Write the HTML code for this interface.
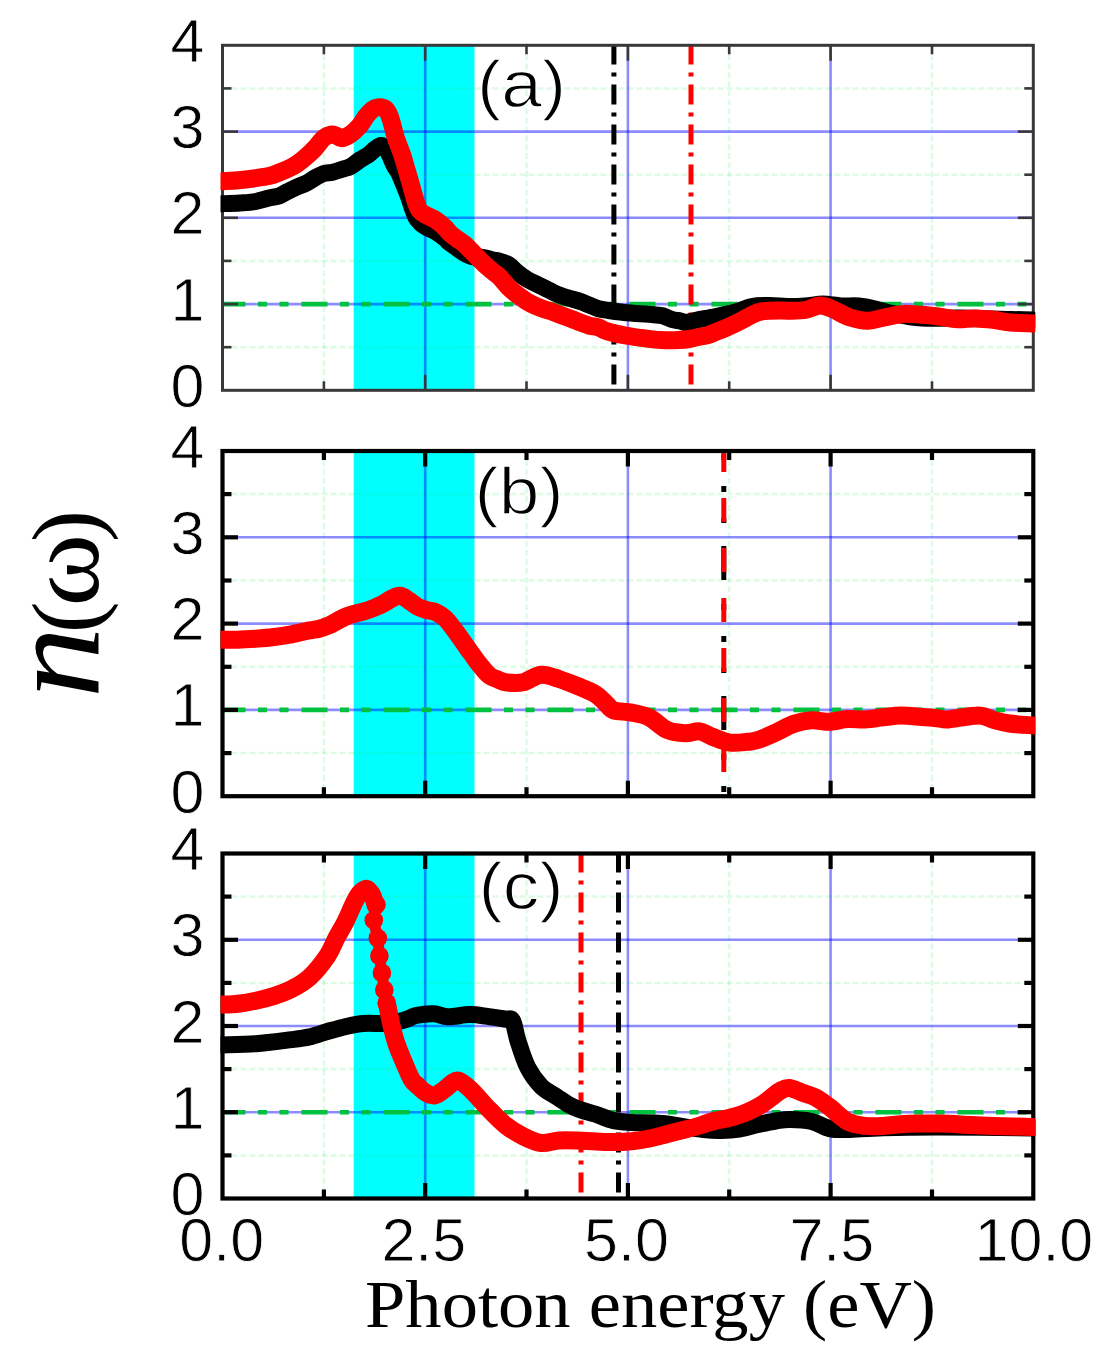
<!DOCTYPE html>
<html><head><meta charset="utf-8"><style>
html,body{margin:0;padding:0;background:#fff;}
svg{display:block;}
.n{font-family:"Liberation Sans",sans-serif;font-size:61px;fill:#000;stroke:#fff;stroke-width:0.8px;}
.l{font-family:"Liberation Sans",sans-serif;font-size:67px;fill:#000;stroke:#fff;stroke-width:1.3px;}
.t{font-family:"Liberation Serif",serif;font-size:68.6px;fill:#000;}
.yl{font-family:"Liberation Serif",serif;font-size:96px;fill:#000;}
.yn{font-family:"Liberation Serif",serif;font-style:italic;font-size:133px;fill:#000;}
</style></head><body>
<svg width="1117" height="1358" viewBox="0 0 1117 1358">
<defs><clipPath id="ca"><rect x="220.5" y="45.3" width="814.8" height="345.0"/></clipPath><clipPath id="cb"><rect x="220.5" y="451.0" width="814.8" height="345.2"/></clipPath><clipPath id="cc"><rect x="220.5" y="853.5" width="814.8" height="345.0"/></clipPath><filter id="bl" x="0" y="0" width="1117" height="1358" filterUnits="userSpaceOnUse"><feGaussianBlur stdDeviation="0.6"/></filter></defs>
<rect width="1117" height="1358" fill="#fff"/>
<g>
<rect width="1117" height="1358" fill="#fff"/>
<rect x="353.7" y="45.3" width="120.8" height="345.0" fill="#00ffff"/>
<line x1="323.9" y1="45.3" x2="323.9" y2="390.3" stroke="rgba(33,227,72,0.15)" stroke-width="2.5" stroke-dasharray="6 3"/>
<line x1="526.5" y1="45.3" x2="526.5" y2="390.3" stroke="rgba(33,227,72,0.15)" stroke-width="2.5" stroke-dasharray="6 3"/>
<line x1="729.2" y1="45.3" x2="729.2" y2="390.3" stroke="rgba(33,227,72,0.15)" stroke-width="2.5" stroke-dasharray="6 3"/>
<line x1="932.0" y1="45.3" x2="932.0" y2="390.3" stroke="rgba(33,227,72,0.15)" stroke-width="2.5" stroke-dasharray="6 3"/>
<line x1="222.5" y1="347.2" x2="1033.3" y2="347.2" stroke="rgba(33,227,72,0.15)" stroke-width="2.5" stroke-dasharray="6 3"/>
<line x1="222.5" y1="260.9" x2="1033.3" y2="260.9" stroke="rgba(33,227,72,0.15)" stroke-width="2.5" stroke-dasharray="6 3"/>
<line x1="222.5" y1="174.7" x2="1033.3" y2="174.7" stroke="rgba(33,227,72,0.15)" stroke-width="2.5" stroke-dasharray="6 3"/>
<line x1="222.5" y1="88.4" x2="1033.3" y2="88.4" stroke="rgba(33,227,72,0.15)" stroke-width="2.5" stroke-dasharray="6 3"/>
<line x1="425.2" y1="45.3" x2="425.2" y2="390.3" stroke="rgba(0,0,255,0.45)" stroke-width="2.6"/>
<line x1="627.9" y1="45.3" x2="627.9" y2="390.3" stroke="rgba(0,0,255,0.45)" stroke-width="2.6"/>
<line x1="830.6" y1="45.3" x2="830.6" y2="390.3" stroke="rgba(0,0,255,0.45)" stroke-width="2.6"/>
<line x1="222.5" y1="304.1" x2="1033.3" y2="304.1" stroke="rgba(0,0,255,0.45)" stroke-width="2.6"/>
<line x1="222.5" y1="217.8" x2="1033.3" y2="217.8" stroke="rgba(0,0,255,0.45)" stroke-width="2.6"/>
<line x1="222.5" y1="131.6" x2="1033.3" y2="131.6" stroke="rgba(0,0,255,0.45)" stroke-width="2.6"/>
<line x1="221.0" y1="304.1" x2="1033.3" y2="304.1" stroke="#00c040" stroke-width="4.6" stroke-dasharray="26 12.5 9 12.5 9 13" stroke-dashoffset="1.5"/>
<line x1="613.9" y1="45.3" x2="613.9" y2="390.3" stroke="#000" stroke-width="5" stroke-dasharray="20 8 4 8" stroke-dashoffset="0.9"/>
<line x1="691.0" y1="45.3" x2="691.0" y2="390.3" stroke="#f00" stroke-width="5" stroke-dasharray="20 8 4 8" stroke-dashoffset="0.9"/>
<rect x="222.5" y="45.3" width="810.8" height="345.0" fill="none" stroke="#383838" stroke-width="3.0"/>
<line x1="425.2" y1="45.3" x2="425.2" y2="60.8" stroke="#383838" stroke-width="2.6"/>
<line x1="425.2" y1="390.3" x2="425.2" y2="374.8" stroke="#383838" stroke-width="2.6"/>
<line x1="627.9" y1="45.3" x2="627.9" y2="60.8" stroke="#383838" stroke-width="2.6"/>
<line x1="627.9" y1="390.3" x2="627.9" y2="374.8" stroke="#383838" stroke-width="2.6"/>
<line x1="830.6" y1="45.3" x2="830.6" y2="60.8" stroke="#383838" stroke-width="2.6"/>
<line x1="830.6" y1="390.3" x2="830.6" y2="374.8" stroke="#383838" stroke-width="2.6"/>
<line x1="323.9" y1="45.3" x2="323.9" y2="54.3" stroke="#383838" stroke-width="2.6"/>
<line x1="323.9" y1="390.3" x2="323.9" y2="381.3" stroke="#383838" stroke-width="2.6"/>
<line x1="526.5" y1="45.3" x2="526.5" y2="54.3" stroke="#383838" stroke-width="2.6"/>
<line x1="526.5" y1="390.3" x2="526.5" y2="381.3" stroke="#383838" stroke-width="2.6"/>
<line x1="729.2" y1="45.3" x2="729.2" y2="54.3" stroke="#383838" stroke-width="2.6"/>
<line x1="729.2" y1="390.3" x2="729.2" y2="381.3" stroke="#383838" stroke-width="2.6"/>
<line x1="932.0" y1="45.3" x2="932.0" y2="54.3" stroke="#383838" stroke-width="2.6"/>
<line x1="932.0" y1="390.3" x2="932.0" y2="381.3" stroke="#383838" stroke-width="2.6"/>
<line x1="222.5" y1="304.1" x2="238.0" y2="304.1" stroke="#383838" stroke-width="2.6"/>
<line x1="1033.3" y1="304.1" x2="1017.8" y2="304.1" stroke="#383838" stroke-width="2.6"/>
<line x1="222.5" y1="217.8" x2="238.0" y2="217.8" stroke="#383838" stroke-width="2.6"/>
<line x1="1033.3" y1="217.8" x2="1017.8" y2="217.8" stroke="#383838" stroke-width="2.6"/>
<line x1="222.5" y1="131.6" x2="238.0" y2="131.6" stroke="#383838" stroke-width="2.6"/>
<line x1="1033.3" y1="131.6" x2="1017.8" y2="131.6" stroke="#383838" stroke-width="2.6"/>
<line x1="222.5" y1="347.2" x2="231.5" y2="347.2" stroke="#383838" stroke-width="2.6"/>
<line x1="1033.3" y1="347.2" x2="1024.3" y2="347.2" stroke="#383838" stroke-width="2.6"/>
<line x1="222.5" y1="260.9" x2="231.5" y2="260.9" stroke="#383838" stroke-width="2.6"/>
<line x1="1033.3" y1="260.9" x2="1024.3" y2="260.9" stroke="#383838" stroke-width="2.6"/>
<line x1="222.5" y1="174.7" x2="231.5" y2="174.7" stroke="#383838" stroke-width="2.6"/>
<line x1="1033.3" y1="174.7" x2="1024.3" y2="174.7" stroke="#383838" stroke-width="2.6"/>
<line x1="222.5" y1="88.4" x2="231.5" y2="88.4" stroke="#383838" stroke-width="2.6"/>
<line x1="1033.3" y1="88.4" x2="1024.3" y2="88.4" stroke="#383838" stroke-width="2.6"/>
<g clip-path="url(#ca)">
<path d="M222.0,203.7 C225.0,203.6 234.4,203.4 240.0,203.0 C245.6,202.6 250.8,202.4 255.8,201.5 C260.8,200.6 266.1,198.6 270.0,197.7 C273.9,196.8 276.0,197.1 279.0,196.0 C282.0,194.9 284.9,192.9 287.9,191.4 C290.9,189.9 293.9,188.3 296.9,187.0 C299.9,185.7 302.8,184.9 305.8,183.4 C308.8,181.9 311.8,179.7 314.8,178.0 C317.8,176.3 320.7,174.5 323.7,173.5 C326.7,172.5 329.7,172.9 332.7,172.2 C335.7,171.5 338.6,170.5 341.6,169.5 C344.6,168.5 347.6,168.0 350.6,166.4 C353.6,164.8 356.5,162.1 359.5,160.1 C362.5,158.1 365.9,156.5 368.5,154.7 C371.1,152.8 372.9,150.5 375.0,149.0 C377.1,147.5 379.2,145.6 381.0,145.5 C382.8,145.4 384.5,146.8 386.0,148.5 C387.5,150.2 388.7,153.2 390.0,156.0 C391.3,158.8 392.6,162.3 394.0,165.0 C395.4,167.7 396.9,169.3 398.5,172.4 C400.1,175.5 401.8,179.9 403.4,183.8 C405.0,187.7 406.8,191.9 408.3,195.9 C409.8,199.9 411.0,204.5 412.3,208.1 C413.6,211.7 414.6,214.9 416.0,217.5 C417.4,220.1 419.2,221.8 421.0,223.5 C422.8,225.2 424.5,226.1 427.0,227.5 C429.5,228.9 433.0,230.2 436.0,232.0 C439.0,233.8 442.7,236.6 445.0,238.5 C447.3,240.4 448.0,241.6 450.0,243.2 C452.0,244.8 454.8,246.5 457.2,248.2 C459.6,249.9 461.9,251.8 464.3,253.2 C466.7,254.6 469.1,255.9 471.5,256.5 C473.9,257.1 476.3,256.8 478.7,257.0 C481.1,257.2 483.4,257.5 485.8,258.0 C488.2,258.5 490.6,259.4 493.0,260.0 C495.4,260.6 497.3,260.5 500.0,261.3 C502.7,262.1 506.0,263.1 509.0,265.0 C512.0,266.9 514.9,270.5 517.9,272.9 C520.9,275.3 523.9,277.4 526.9,279.2 C529.9,281.0 532.8,282.2 535.8,283.7 C538.8,285.2 541.8,286.6 544.8,288.1 C547.8,289.6 550.7,291.2 553.7,292.6 C556.7,294.0 559.7,295.1 562.7,296.2 C565.7,297.2 568.6,298.0 571.6,298.9 C574.6,299.8 577.6,300.6 580.6,301.6 C583.6,302.7 586.5,304.0 589.5,305.2 C592.5,306.4 595.2,307.8 598.5,308.7 C601.8,309.6 605.8,310.0 609.0,310.5 C612.2,311.0 614.9,311.4 617.9,311.8 C620.9,312.2 623.9,312.4 626.9,312.7 C629.9,313.0 632.8,313.2 635.8,313.4 C638.8,313.6 641.8,313.8 644.8,314.0 C647.8,314.2 650.7,314.4 653.7,314.7 C656.7,315.0 659.7,315.0 662.7,315.8 C665.7,316.6 668.6,318.5 671.6,319.4 C674.6,320.3 678.2,320.5 680.6,321.0 C683.0,321.5 683.3,322.7 686.0,322.5 C688.7,322.3 692.0,321.0 697.0,320.0 C702.0,319.0 709.8,317.8 716.0,316.5 C722.2,315.2 728.0,314.2 734.0,312.5 C740.0,310.8 746.0,307.7 752.0,306.5 C758.0,305.3 764.2,305.5 770.0,305.5 C775.8,305.5 781.2,306.4 787.0,306.5 C792.8,306.6 799.0,306.4 805.0,306.0 C811.0,305.6 817.0,304.0 823.0,304.0 C829.0,304.0 835.0,305.7 841.0,306.0 C847.0,306.3 853.0,305.4 859.0,306.0 C865.0,306.6 871.8,308.3 877.0,309.5 C882.2,310.7 882.6,311.6 890.0,313.0 C897.4,314.4 909.9,317.2 921.6,318.0 C933.3,318.8 945.1,317.8 960.0,318.0 C974.9,318.2 998.8,319.2 1011.0,319.5 C1023.2,319.8 1029.3,319.9 1033.0,320.0" fill="none" stroke="#000" stroke-width="17" stroke-linecap="round" stroke-linejoin="round"/>
<path d="M222.0,181.3 C224.7,181.1 232.4,180.7 238.0,180.2 C243.6,179.7 250.5,178.8 255.8,178.1 C261.1,177.4 266.1,176.7 270.0,175.8 C273.9,174.9 276.0,173.8 279.0,172.6 C282.0,171.4 284.9,170.3 287.9,168.9 C290.9,167.5 293.9,165.9 296.9,163.9 C299.9,161.9 302.8,159.6 305.8,157.0 C308.8,154.4 311.8,151.7 314.8,148.5 C317.8,145.3 321.0,140.3 323.7,138.0 C326.4,135.7 328.8,135.0 330.9,134.6 C332.9,134.2 334.2,134.9 336.0,135.5 C337.8,136.1 339.2,138.4 341.6,138.2 C344.0,138.0 347.6,136.2 350.6,134.2 C353.6,132.2 356.9,129.0 359.5,126.1 C362.1,123.1 363.9,119.2 366.0,116.5 C368.1,113.8 370.1,111.5 372.0,110.0 C373.9,108.5 375.4,107.6 377.6,107.4 C379.8,107.2 383.3,107.4 385.4,109.0 C387.5,110.6 388.2,112.2 390.0,117.0 C391.8,121.8 393.9,131.8 395.9,138.0 C397.9,144.2 400.2,148.9 402.0,154.3 C403.8,159.7 405.2,165.1 406.8,170.5 C408.4,175.9 409.9,181.3 411.5,186.7 C413.1,192.1 414.8,198.8 416.2,202.9 C417.6,207.0 418.2,208.9 420.0,211.0 C421.8,213.1 424.3,214.0 426.9,215.5 C429.5,217.0 432.8,218.0 435.8,220.0 C438.8,222.0 442.4,225.3 444.8,227.5 C447.2,229.7 447.9,231.4 450.0,233.3 C452.1,235.2 454.8,237.2 457.2,239.0 C459.6,240.8 461.9,242.0 464.3,244.0 C466.7,246.0 469.1,248.8 471.5,251.2 C473.9,253.6 476.3,256.3 478.7,258.7 C481.1,261.1 483.4,263.4 485.8,265.5 C488.2,267.6 490.6,269.6 493.0,271.6 C495.4,273.6 497.3,274.6 500.0,277.3 C502.7,280.0 506.0,284.6 509.0,287.6 C512.0,290.6 514.9,292.9 517.9,295.2 C520.9,297.5 523.9,299.7 526.9,301.5 C529.9,303.3 532.8,304.7 535.8,306.0 C538.8,307.3 541.8,308.5 544.8,309.5 C547.8,310.5 550.7,311.1 553.7,312.2 C556.7,313.2 559.7,314.7 562.7,315.8 C565.7,316.9 568.6,317.9 571.6,319.0 C574.6,320.1 577.6,321.5 580.6,322.6 C583.6,323.7 586.5,324.9 589.5,325.7 C592.5,326.5 595.5,326.4 598.5,327.4 C601.5,328.3 602.9,330.0 607.4,331.4 C611.9,332.8 619.3,334.4 625.3,335.5 C631.3,336.6 637.2,337.4 643.2,338.2 C649.2,338.9 655.1,339.7 661.1,340.0 C667.1,340.3 674.3,340.2 679.0,340.0 C683.7,339.8 686.2,339.5 689.5,339.0 C692.8,338.5 695.4,337.6 698.5,337.0 C701.6,336.4 704.8,336.0 707.9,335.1 C711.0,334.2 713.9,332.7 716.9,331.5 C719.9,330.3 722.8,329.2 725.8,327.9 C728.8,326.6 731.8,325.3 734.8,323.9 C737.8,322.5 740.7,321.0 743.7,319.4 C746.7,317.8 749.7,315.8 752.7,314.5 C755.7,313.2 758.6,312.0 761.6,311.4 C764.6,310.8 767.6,310.8 770.6,310.7 C773.6,310.6 776.5,310.5 779.5,310.5 C782.5,310.5 784.2,310.8 788.5,310.7 C792.8,310.6 800.1,310.9 805.3,310.0 C810.5,309.1 815.2,305.7 819.7,305.5 C824.2,305.3 827.2,307.0 832.2,309.0 C837.2,311.0 844.0,315.6 850.0,317.5 C856.0,319.4 861.9,320.8 867.9,320.7 C873.9,320.6 879.8,318.2 885.8,317.1 C891.8,316.0 897.7,314.3 903.7,313.9 C909.7,313.5 915.6,314.4 921.6,314.8 C927.6,315.2 933.5,315.9 939.5,316.6 C945.5,317.4 951.4,319.0 957.4,319.3 C963.4,319.6 969.3,318.3 975.3,318.4 C981.3,318.5 987.2,319.1 993.2,319.8 C999.2,320.5 1004.4,321.9 1011.0,322.5 C1017.6,323.1 1029.3,323.2 1033.0,323.4" fill="none" stroke="#f00" stroke-width="18" stroke-linecap="round" stroke-linejoin="round"/>
</g>
<rect x="353.7" y="451.0" width="120.8" height="345.2" fill="#00ffff"/>
<line x1="323.9" y1="451.0" x2="323.9" y2="796.2" stroke="rgba(33,227,72,0.15)" stroke-width="2.5" stroke-dasharray="6 3"/>
<line x1="526.5" y1="451.0" x2="526.5" y2="796.2" stroke="rgba(33,227,72,0.15)" stroke-width="2.5" stroke-dasharray="6 3"/>
<line x1="729.2" y1="451.0" x2="729.2" y2="796.2" stroke="rgba(33,227,72,0.15)" stroke-width="2.5" stroke-dasharray="6 3"/>
<line x1="932.0" y1="451.0" x2="932.0" y2="796.2" stroke="rgba(33,227,72,0.15)" stroke-width="2.5" stroke-dasharray="6 3"/>
<line x1="222.5" y1="753.1" x2="1033.3" y2="753.1" stroke="rgba(33,227,72,0.15)" stroke-width="2.5" stroke-dasharray="6 3"/>
<line x1="222.5" y1="666.8" x2="1033.3" y2="666.8" stroke="rgba(33,227,72,0.15)" stroke-width="2.5" stroke-dasharray="6 3"/>
<line x1="222.5" y1="580.5" x2="1033.3" y2="580.5" stroke="rgba(33,227,72,0.15)" stroke-width="2.5" stroke-dasharray="6 3"/>
<line x1="222.5" y1="494.1" x2="1033.3" y2="494.1" stroke="rgba(33,227,72,0.15)" stroke-width="2.5" stroke-dasharray="6 3"/>
<line x1="425.2" y1="451.0" x2="425.2" y2="796.2" stroke="rgba(0,0,255,0.45)" stroke-width="2.6"/>
<line x1="627.9" y1="451.0" x2="627.9" y2="796.2" stroke="rgba(0,0,255,0.45)" stroke-width="2.6"/>
<line x1="830.6" y1="451.0" x2="830.6" y2="796.2" stroke="rgba(0,0,255,0.45)" stroke-width="2.6"/>
<line x1="222.5" y1="709.9" x2="1033.3" y2="709.9" stroke="rgba(0,0,255,0.45)" stroke-width="2.6"/>
<line x1="222.5" y1="623.6" x2="1033.3" y2="623.6" stroke="rgba(0,0,255,0.45)" stroke-width="2.6"/>
<line x1="222.5" y1="537.3" x2="1033.3" y2="537.3" stroke="rgba(0,0,255,0.45)" stroke-width="2.6"/>
<line x1="221.0" y1="709.9" x2="1033.3" y2="709.9" stroke="#00c040" stroke-width="4.6" stroke-dasharray="26 12.5 9 12.5 9 13" stroke-dashoffset="1.5"/>
<line x1="723.8" y1="451.0" x2="723.8" y2="796.2" stroke="#000" stroke-width="5" stroke-dasharray="34 24 6 26 6 26 5 23" stroke-dashoffset="55.0"/>
<line x1="723.8" y1="451.0" x2="723.8" y2="796.2" stroke="#f00" stroke-width="5" stroke-dasharray="24 26" stroke-dashoffset="3.0"/>
<rect x="222.5" y="451.0" width="810.8" height="345.2" fill="none" stroke="#000" stroke-width="4.2"/>
<line x1="425.2" y1="451.0" x2="425.2" y2="466.5" stroke="#000" stroke-width="4.2"/>
<line x1="425.2" y1="796.2" x2="425.2" y2="780.7" stroke="#000" stroke-width="4.2"/>
<line x1="627.9" y1="451.0" x2="627.9" y2="466.5" stroke="#000" stroke-width="4.2"/>
<line x1="627.9" y1="796.2" x2="627.9" y2="780.7" stroke="#000" stroke-width="4.2"/>
<line x1="830.6" y1="451.0" x2="830.6" y2="466.5" stroke="#000" stroke-width="4.2"/>
<line x1="830.6" y1="796.2" x2="830.6" y2="780.7" stroke="#000" stroke-width="4.2"/>
<line x1="323.9" y1="451.0" x2="323.9" y2="460.0" stroke="#000" stroke-width="4.2"/>
<line x1="323.9" y1="796.2" x2="323.9" y2="787.2" stroke="#000" stroke-width="4.2"/>
<line x1="526.5" y1="451.0" x2="526.5" y2="460.0" stroke="#000" stroke-width="4.2"/>
<line x1="526.5" y1="796.2" x2="526.5" y2="787.2" stroke="#000" stroke-width="4.2"/>
<line x1="729.2" y1="451.0" x2="729.2" y2="460.0" stroke="#000" stroke-width="4.2"/>
<line x1="729.2" y1="796.2" x2="729.2" y2="787.2" stroke="#000" stroke-width="4.2"/>
<line x1="932.0" y1="451.0" x2="932.0" y2="460.0" stroke="#000" stroke-width="4.2"/>
<line x1="932.0" y1="796.2" x2="932.0" y2="787.2" stroke="#000" stroke-width="4.2"/>
<line x1="222.5" y1="709.9" x2="238.0" y2="709.9" stroke="#000" stroke-width="4.2"/>
<line x1="1033.3" y1="709.9" x2="1017.8" y2="709.9" stroke="#000" stroke-width="4.2"/>
<line x1="222.5" y1="623.6" x2="238.0" y2="623.6" stroke="#000" stroke-width="4.2"/>
<line x1="1033.3" y1="623.6" x2="1017.8" y2="623.6" stroke="#000" stroke-width="4.2"/>
<line x1="222.5" y1="537.3" x2="238.0" y2="537.3" stroke="#000" stroke-width="4.2"/>
<line x1="1033.3" y1="537.3" x2="1017.8" y2="537.3" stroke="#000" stroke-width="4.2"/>
<line x1="222.5" y1="753.1" x2="231.5" y2="753.1" stroke="#000" stroke-width="4.2"/>
<line x1="1033.3" y1="753.1" x2="1024.3" y2="753.1" stroke="#000" stroke-width="4.2"/>
<line x1="222.5" y1="666.8" x2="231.5" y2="666.8" stroke="#000" stroke-width="4.2"/>
<line x1="1033.3" y1="666.8" x2="1024.3" y2="666.8" stroke="#000" stroke-width="4.2"/>
<line x1="222.5" y1="580.5" x2="231.5" y2="580.5" stroke="#000" stroke-width="4.2"/>
<line x1="1033.3" y1="580.5" x2="1024.3" y2="580.5" stroke="#000" stroke-width="4.2"/>
<line x1="222.5" y1="494.1" x2="231.5" y2="494.1" stroke="#000" stroke-width="4.2"/>
<line x1="1033.3" y1="494.1" x2="1024.3" y2="494.1" stroke="#000" stroke-width="4.2"/>
<g clip-path="url(#cb)">
<path d="M222.0,639.7 C224.7,639.7 232.4,639.9 238.0,639.7 C243.6,639.6 249.9,639.2 255.8,638.8 C261.8,638.3 267.7,637.8 273.7,637.0 C279.7,636.2 285.6,635.4 291.6,634.3 C297.6,633.2 304.8,631.3 309.5,630.4 C314.2,629.5 316.8,629.5 320.0,628.6 C323.2,627.8 326.0,626.6 329.0,625.3 C332.0,624.0 334.9,622.1 337.9,620.6 C340.9,619.1 343.9,617.3 346.9,616.1 C349.9,614.9 352.8,614.2 355.8,613.4 C358.8,612.6 361.8,612.1 364.8,611.2 C367.8,610.3 370.7,609.2 373.7,608.0 C376.7,606.8 379.7,605.5 382.7,604.0 C385.7,602.5 388.7,600.1 391.6,598.7 C394.5,597.3 397.4,595.5 400.3,595.8 C403.2,596.1 406.1,598.8 409.0,600.6 C411.9,602.5 414.9,605.3 417.9,606.9 C420.9,608.5 423.9,609.3 426.9,610.2 C429.9,611.1 432.8,610.9 435.8,612.2 C438.8,613.5 441.8,615.2 444.8,618.0 C447.8,620.8 450.7,624.9 453.7,628.8 C456.7,632.7 459.7,637.1 462.7,641.3 C465.7,645.5 468.6,649.7 471.6,653.8 C474.6,657.9 477.6,662.2 480.6,665.9 C483.6,669.5 486.5,673.4 489.5,675.7 C492.5,678.0 495.6,678.7 498.5,679.8 C501.4,680.9 502.9,682.1 507.0,682.5 C511.1,682.9 517.5,683.6 523.2,682.3 C528.9,681.0 535.1,675.2 541.1,674.7 C547.1,674.2 552.9,677.1 559.0,679.0 C565.1,680.9 571.8,683.7 577.9,686.2 C584.0,688.8 591.0,691.3 595.8,694.3 C600.6,697.3 603.6,701.5 606.6,704.2 C609.6,706.9 609.5,709.0 613.7,710.4 C617.9,711.8 625.6,711.4 631.6,712.6 C637.6,713.8 643.5,714.7 649.5,717.6 C655.5,720.5 661.4,727.5 667.4,730.1 C673.4,732.7 679.9,733.0 685.3,733.2 C690.7,733.4 695.2,730.8 699.7,731.4 C704.2,732.0 707.1,734.8 712.2,736.7 C717.3,738.6 724.1,741.8 730.1,742.6 C736.1,743.5 743.4,742.2 748.0,741.8 C752.6,741.4 753.3,741.5 757.9,740.0 C762.5,738.5 769.8,735.2 775.8,732.5 C781.8,729.8 787.7,725.9 793.7,723.9 C799.7,721.9 805.6,720.6 811.6,720.3 C817.6,719.9 823.5,722.0 829.5,721.8 C835.5,721.6 841.4,719.5 847.4,719.1 C853.4,718.7 859.3,719.7 865.3,719.4 C871.3,719.1 877.2,717.9 883.2,717.3 C889.2,716.6 895.1,715.6 901.1,715.5 C907.1,715.4 913.0,716.3 919.0,716.8 C925.0,717.2 932.1,717.8 937.0,718.2 C941.9,718.6 941.5,719.9 948.5,719.4 C955.5,718.9 971.3,715.4 978.9,715.5 C986.5,715.6 989.0,718.8 994.1,720.1 C999.2,721.4 1002.9,722.6 1009.4,723.5 C1015.9,724.4 1029.1,725.1 1033.0,725.4" fill="none" stroke="#f00" stroke-width="18" stroke-linecap="round" stroke-linejoin="round"/>
</g>
<rect x="353.7" y="853.5" width="120.8" height="345.0" fill="#00ffff"/>
<line x1="323.9" y1="853.5" x2="323.9" y2="1198.5" stroke="rgba(33,227,72,0.15)" stroke-width="2.5" stroke-dasharray="6 3"/>
<line x1="526.5" y1="853.5" x2="526.5" y2="1198.5" stroke="rgba(33,227,72,0.15)" stroke-width="2.5" stroke-dasharray="6 3"/>
<line x1="729.2" y1="853.5" x2="729.2" y2="1198.5" stroke="rgba(33,227,72,0.15)" stroke-width="2.5" stroke-dasharray="6 3"/>
<line x1="932.0" y1="853.5" x2="932.0" y2="1198.5" stroke="rgba(33,227,72,0.15)" stroke-width="2.5" stroke-dasharray="6 3"/>
<line x1="222.5" y1="1155.4" x2="1033.3" y2="1155.4" stroke="rgba(33,227,72,0.15)" stroke-width="2.5" stroke-dasharray="6 3"/>
<line x1="222.5" y1="1069.1" x2="1033.3" y2="1069.1" stroke="rgba(33,227,72,0.15)" stroke-width="2.5" stroke-dasharray="6 3"/>
<line x1="222.5" y1="982.9" x2="1033.3" y2="982.9" stroke="rgba(33,227,72,0.15)" stroke-width="2.5" stroke-dasharray="6 3"/>
<line x1="222.5" y1="896.6" x2="1033.3" y2="896.6" stroke="rgba(33,227,72,0.15)" stroke-width="2.5" stroke-dasharray="6 3"/>
<line x1="425.2" y1="853.5" x2="425.2" y2="1198.5" stroke="rgba(0,0,255,0.45)" stroke-width="2.6"/>
<line x1="627.9" y1="853.5" x2="627.9" y2="1198.5" stroke="rgba(0,0,255,0.45)" stroke-width="2.6"/>
<line x1="830.6" y1="853.5" x2="830.6" y2="1198.5" stroke="rgba(0,0,255,0.45)" stroke-width="2.6"/>
<line x1="222.5" y1="1112.2" x2="1033.3" y2="1112.2" stroke="rgba(0,0,255,0.45)" stroke-width="2.6"/>
<line x1="222.5" y1="1026.0" x2="1033.3" y2="1026.0" stroke="rgba(0,0,255,0.45)" stroke-width="2.6"/>
<line x1="222.5" y1="939.8" x2="1033.3" y2="939.8" stroke="rgba(0,0,255,0.45)" stroke-width="2.6"/>
<line x1="221.0" y1="1112.2" x2="1033.3" y2="1112.2" stroke="#00c040" stroke-width="4.6" stroke-dasharray="26 12.5 9 12.5 9 13" stroke-dashoffset="1.5"/>
<line x1="618.5" y1="853.5" x2="618.5" y2="1198.5" stroke="#000" stroke-width="5" stroke-dasharray="20 8 4 8" stroke-dashoffset="0.9"/>
<line x1="581.0" y1="853.5" x2="581.0" y2="1198.5" stroke="#f00" stroke-width="5" stroke-dasharray="20 8 4 8" stroke-dashoffset="0.9"/>
<rect x="222.5" y="853.5" width="810.8" height="345.0" fill="none" stroke="#000" stroke-width="4.2"/>
<line x1="425.2" y1="853.5" x2="425.2" y2="869.0" stroke="#000" stroke-width="4.2"/>
<line x1="425.2" y1="1198.5" x2="425.2" y2="1183.0" stroke="#000" stroke-width="4.2"/>
<line x1="627.9" y1="853.5" x2="627.9" y2="869.0" stroke="#000" stroke-width="4.2"/>
<line x1="627.9" y1="1198.5" x2="627.9" y2="1183.0" stroke="#000" stroke-width="4.2"/>
<line x1="830.6" y1="853.5" x2="830.6" y2="869.0" stroke="#000" stroke-width="4.2"/>
<line x1="830.6" y1="1198.5" x2="830.6" y2="1183.0" stroke="#000" stroke-width="4.2"/>
<line x1="323.9" y1="853.5" x2="323.9" y2="862.5" stroke="#000" stroke-width="4.2"/>
<line x1="323.9" y1="1198.5" x2="323.9" y2="1189.5" stroke="#000" stroke-width="4.2"/>
<line x1="526.5" y1="853.5" x2="526.5" y2="862.5" stroke="#000" stroke-width="4.2"/>
<line x1="526.5" y1="1198.5" x2="526.5" y2="1189.5" stroke="#000" stroke-width="4.2"/>
<line x1="729.2" y1="853.5" x2="729.2" y2="862.5" stroke="#000" stroke-width="4.2"/>
<line x1="729.2" y1="1198.5" x2="729.2" y2="1189.5" stroke="#000" stroke-width="4.2"/>
<line x1="932.0" y1="853.5" x2="932.0" y2="862.5" stroke="#000" stroke-width="4.2"/>
<line x1="932.0" y1="1198.5" x2="932.0" y2="1189.5" stroke="#000" stroke-width="4.2"/>
<line x1="222.5" y1="1112.2" x2="238.0" y2="1112.2" stroke="#000" stroke-width="4.2"/>
<line x1="1033.3" y1="1112.2" x2="1017.8" y2="1112.2" stroke="#000" stroke-width="4.2"/>
<line x1="222.5" y1="1026.0" x2="238.0" y2="1026.0" stroke="#000" stroke-width="4.2"/>
<line x1="1033.3" y1="1026.0" x2="1017.8" y2="1026.0" stroke="#000" stroke-width="4.2"/>
<line x1="222.5" y1="939.8" x2="238.0" y2="939.8" stroke="#000" stroke-width="4.2"/>
<line x1="1033.3" y1="939.8" x2="1017.8" y2="939.8" stroke="#000" stroke-width="4.2"/>
<line x1="222.5" y1="1155.4" x2="231.5" y2="1155.4" stroke="#000" stroke-width="4.2"/>
<line x1="1033.3" y1="1155.4" x2="1024.3" y2="1155.4" stroke="#000" stroke-width="4.2"/>
<line x1="222.5" y1="1069.1" x2="231.5" y2="1069.1" stroke="#000" stroke-width="4.2"/>
<line x1="1033.3" y1="1069.1" x2="1024.3" y2="1069.1" stroke="#000" stroke-width="4.2"/>
<line x1="222.5" y1="982.9" x2="231.5" y2="982.9" stroke="#000" stroke-width="4.2"/>
<line x1="1033.3" y1="982.9" x2="1024.3" y2="982.9" stroke="#000" stroke-width="4.2"/>
<line x1="222.5" y1="896.6" x2="231.5" y2="896.6" stroke="#000" stroke-width="4.2"/>
<line x1="1033.3" y1="896.6" x2="1024.3" y2="896.6" stroke="#000" stroke-width="4.2"/>
<g clip-path="url(#cc)">
<path d="M222.0,1044.9 C227.6,1044.7 244.2,1044.6 255.8,1043.7 C267.4,1042.8 282.7,1040.7 291.6,1039.6 C300.6,1038.5 303.5,1038.2 309.5,1036.9 C315.5,1035.6 321.4,1033.2 327.4,1031.5 C333.4,1029.8 339.3,1028.0 345.3,1026.7 C351.3,1025.4 357.2,1024.0 363.2,1023.5 C369.1,1023.0 376.5,1023.6 381.0,1023.5 C385.5,1023.4 387.0,1023.3 390.0,1023.0 C393.0,1022.7 396.0,1022.2 399.0,1021.5 C402.0,1020.8 405.2,1019.8 408.0,1018.8 C410.8,1017.8 411.5,1016.4 415.8,1015.5 C420.1,1014.6 428.3,1013.5 433.7,1013.7 C439.1,1013.9 442.0,1016.6 448.0,1016.8 C454.0,1016.9 462.9,1014.7 469.5,1014.6 C476.1,1014.5 481.4,1015.6 487.4,1016.4 C493.4,1017.1 501.1,1018.4 505.3,1019.1 C509.5,1019.8 510.4,1016.9 512.5,1020.5 C514.6,1024.1 515.4,1032.8 517.9,1040.6 C520.4,1048.4 523.8,1059.8 527.7,1067.4 C531.6,1075.0 536.2,1081.2 541.1,1086.2 C546.0,1091.2 552.8,1094.2 557.3,1097.2 C561.8,1100.2 564.7,1102.4 568.4,1104.4 C572.1,1106.4 574.8,1107.8 579.4,1109.4 C584.0,1111.1 590.1,1112.4 595.8,1114.3 C601.5,1116.2 607.7,1119.2 613.7,1120.6 C619.7,1121.9 625.6,1122.0 631.6,1122.4 C637.6,1122.8 643.5,1122.6 649.5,1122.9 C655.5,1123.2 661.5,1123.3 667.4,1124.0 C673.3,1124.7 679.0,1126.1 685.0,1127.0 C691.0,1127.9 697.2,1128.9 703.2,1129.5 C709.2,1130.1 715.1,1130.5 721.1,1130.4 C727.1,1130.3 732.9,1130.0 739.0,1129.0 C745.1,1128.0 751.8,1125.8 757.9,1124.5 C764.0,1123.2 770.4,1121.8 775.8,1121.0 C781.2,1120.2 784.1,1119.4 790.1,1119.5 C796.1,1119.6 805.0,1120.0 811.6,1121.5 C818.2,1123.0 823.5,1127.3 829.5,1128.6 C835.5,1129.9 838.4,1129.7 847.4,1129.5 C856.4,1129.3 868.3,1128.1 883.2,1127.7 C898.1,1127.3 912.0,1127.0 937.0,1127.0 C962.0,1127.0 1017.0,1127.8 1033.0,1128.0" fill="none" stroke="#000" stroke-width="17" stroke-linecap="round" stroke-linejoin="round"/>
<path d="M222.0,1004.6 C224.7,1004.5 232.4,1004.4 238.0,1003.7 C243.6,1003.1 249.9,1002.0 255.8,1000.7 C261.8,999.5 267.7,998.1 273.7,996.2 C279.7,994.3 285.6,992.2 291.6,989.1 C297.6,986.0 303.5,982.9 309.5,977.4 C315.5,971.9 322.9,962.5 327.4,955.9 C331.9,949.3 333.4,943.7 336.4,938.0 C339.4,932.3 342.3,927.9 345.3,921.9 C348.3,915.9 351.9,907.0 354.3,902.2 C356.8,897.4 357.9,895.2 360.0,893.0 C362.1,890.8 364.8,888.4 366.8,888.8 C368.8,889.1 370.7,892.3 372.2,895.1 C373.7,897.9 375.2,904.0 375.8,905.8" fill="none" stroke="#f00" stroke-width="18" stroke-linecap="round" stroke-linejoin="round"/>
<path d="M372.2,895.1 C372.9,896.7 376.2,900.3 376.5,904.5 C376.8,908.7 373.6,914.6 373.8,920.2 C374.0,925.8 376.9,932.2 377.8,938.1 C378.7,944.0 378.7,950.1 379.4,955.9 C380.1,961.7 381.1,967.2 381.9,972.9 C382.7,978.6 383.5,984.9 384.3,989.9 C385.1,994.9 386.3,1000.7 386.7,1002.9" fill="none" stroke="#f00" stroke-width="11" stroke-linecap="round" stroke-linejoin="round"/>
<circle cx="376.5" cy="904.5" r="9.3" fill="#f00"/>
<circle cx="373.8" cy="920.2" r="9.3" fill="#f00"/>
<circle cx="377.8" cy="938.1" r="9.3" fill="#f00"/>
<circle cx="379.4" cy="955.9" r="9.3" fill="#f00"/>
<circle cx="381.9" cy="972.9" r="9.3" fill="#f00"/>
<circle cx="384.3" cy="989.9" r="9.3" fill="#f00"/>
<circle cx="386.7" cy="1002.9" r="9.3" fill="#f00"/>
<path d="M386.7,1002.9 C387.0,1004.1 387.5,1006.1 388.3,1010.0 C389.1,1013.9 390.3,1020.6 391.7,1026.3 C393.1,1032.0 394.6,1038.1 396.6,1044.0 C398.6,1049.9 401.2,1055.8 403.7,1061.7 C406.2,1067.6 409.4,1075.5 411.6,1079.4 C413.8,1083.3 414.5,1082.8 416.9,1085.0 C419.3,1087.2 422.8,1091.0 425.8,1092.7 C428.8,1094.4 431.8,1095.8 434.8,1095.3 C437.8,1094.8 440.7,1092.1 443.7,1090.0 C446.7,1087.9 450.3,1084.1 452.7,1082.5 C455.1,1080.9 455.8,1080.0 458.0,1080.5 C460.2,1081.0 463.3,1083.2 466.1,1085.5 C468.9,1087.8 471.4,1090.3 475.0,1094.0 C478.6,1097.7 482.3,1102.5 487.4,1107.7 C492.4,1112.9 499.3,1120.3 505.3,1125.1 C511.3,1129.9 517.2,1133.4 523.2,1136.4 C529.2,1139.4 535.1,1142.3 541.1,1143.0 C547.1,1143.7 552.9,1140.9 559.0,1140.5 C565.1,1140.1 571.8,1140.4 577.9,1140.6 C584.0,1140.8 589.8,1141.3 595.8,1141.5 C601.8,1141.7 607.7,1142.0 613.7,1142.0 C619.7,1142.0 625.6,1141.8 631.6,1141.2 C637.6,1140.6 643.5,1139.7 649.5,1138.5 C655.5,1137.3 661.4,1135.5 667.4,1134.0 C673.4,1132.5 679.9,1130.9 685.3,1129.5 C690.7,1128.1 696.0,1126.7 700.0,1125.5 C704.0,1124.3 706.0,1123.3 709.0,1122.4 C712.0,1121.5 714.9,1120.9 717.9,1120.2 C720.9,1119.5 723.9,1119.1 726.9,1118.4 C729.9,1117.7 732.8,1117.0 735.8,1116.1 C738.8,1115.2 741.8,1114.2 744.8,1113.0 C747.8,1111.8 750.7,1110.5 753.7,1109.0 C756.7,1107.5 759.7,1106.0 762.7,1104.0 C765.7,1102.0 768.6,1099.5 771.6,1097.3 C774.6,1095.1 777.6,1092.1 780.6,1090.6 C783.6,1089.0 785.8,1087.6 789.5,1088.0 C793.2,1088.4 798.4,1091.2 802.7,1092.8 C807.0,1094.3 810.7,1094.9 815.2,1097.3 C819.7,1099.7 824.1,1103.1 829.5,1107.1 C834.9,1111.1 841.4,1118.4 847.4,1121.5 C853.4,1124.6 859.3,1125.2 865.3,1125.9 C871.3,1126.6 877.2,1126.2 883.2,1125.9 C889.2,1125.6 895.1,1124.6 901.1,1124.2 C907.1,1123.8 912.4,1123.7 919.0,1123.6 C925.6,1123.5 932.2,1123.3 940.9,1123.5 C949.6,1123.7 961.2,1124.5 971.3,1125.0 C981.4,1125.5 991.4,1125.9 1001.7,1126.2 C1012.0,1126.5 1027.8,1126.9 1033.0,1127.0" fill="none" stroke="#f00" stroke-width="18" stroke-linecap="round" stroke-linejoin="round"/>
</g>
<text transform="translate(204.5,385.8) scale(1.000,1)" text-anchor="end" dominant-baseline="central" class="n">0</text>
<text transform="translate(204.5,299.6) scale(1.000,1)" text-anchor="end" dominant-baseline="central" class="n">1</text>
<text transform="translate(204.5,213.3) scale(1.000,1)" text-anchor="end" dominant-baseline="central" class="n">2</text>
<text transform="translate(204.5,127.1) scale(1.000,1)" text-anchor="end" dominant-baseline="central" class="n">3</text>
<text transform="translate(204.5,40.8) scale(1.000,1)" text-anchor="end" dominant-baseline="central" class="n">4</text>
<text transform="translate(204.5,791.7) scale(1.000,1)" text-anchor="end" dominant-baseline="central" class="n">0</text>
<text transform="translate(204.5,705.4) scale(1.000,1)" text-anchor="end" dominant-baseline="central" class="n">1</text>
<text transform="translate(204.5,619.1) scale(1.000,1)" text-anchor="end" dominant-baseline="central" class="n">2</text>
<text transform="translate(204.5,532.8) scale(1.000,1)" text-anchor="end" dominant-baseline="central" class="n">3</text>
<text transform="translate(204.5,446.5) scale(1.000,1)" text-anchor="end" dominant-baseline="central" class="n">4</text>
<text transform="translate(204.5,1194.0) scale(1.000,1)" text-anchor="end" dominant-baseline="central" class="n">0</text>
<text transform="translate(204.5,1107.8) scale(1.000,1)" text-anchor="end" dominant-baseline="central" class="n">1</text>
<text transform="translate(204.5,1021.5) scale(1.000,1)" text-anchor="end" dominant-baseline="central" class="n">2</text>
<text transform="translate(204.5,935.2) scale(1.000,1)" text-anchor="end" dominant-baseline="central" class="n">3</text>
<text transform="translate(204.5,849.0) scale(1.000,1)" text-anchor="end" dominant-baseline="central" class="n">4</text>
<text transform="translate(221.7,1261) scale(1.000,1)" text-anchor="middle" class="n">0.0</text>
<text transform="translate(423.8,1261) scale(1.000,1)" text-anchor="middle" class="n">2.5</text>
<text transform="translate(626.5,1261) scale(1.000,1)" text-anchor="middle" class="n">5.0</text>
<text transform="translate(831.8,1261) scale(1.000,1)" text-anchor="middle" class="n">7.5</text>
<text transform="translate(1033.9,1261) scale(1.000,1)" text-anchor="middle" class="n">10.0</text>
<text transform="translate(521.5,107) scale(1.090,1)" text-anchor="middle" class="l">(a)</text>
<text transform="translate(519,514) scale(1.090,1)" text-anchor="middle" class="l">(b)</text>
<text transform="translate(521,909) scale(1.090,1)" text-anchor="middle" class="l">(c)</text>
<text transform="translate(650.5,1327.3) scale(1.058,1)" text-anchor="middle" class="t">Photon energy (eV)</text>
<text class="yn" transform="translate(97.5,698) rotate(-90) scale(1.07,1)">n</text>
<text class="yl" transform="translate(98,633.2) rotate(-90)">(</text>
<text class="yl" transform="translate(98,606.5) rotate(-90) scale(1.15,1.08)">ω</text>
<text class="yl" transform="translate(98,542) rotate(-90)">)</text>
</g>
</svg>
</body></html>
